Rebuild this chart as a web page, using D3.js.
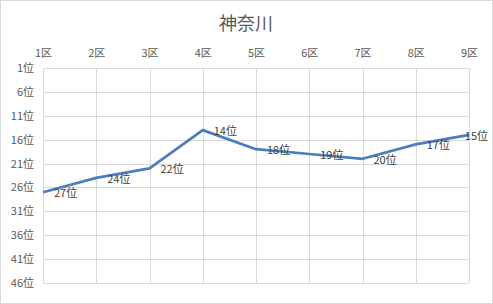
<!DOCTYPE html>
<html>
<head>
<meta charset="utf-8">
<script src="https://cdn.jsdelivr.net/npm/d3@7"></script>
<style>
  body { margin: 0; background: #fff; }
  svg { display: block; font-family: "Noto Sans CJK JP", "Noto Sans", sans-serif; }
</style>
</head>
<body>
<svg id="chart" width="493" height="304"></svg>
<script>
/*  Data  */
const title      = "神奈川";
const districts  = ["1区", "2区", "3区", "4区", "5区", "6区", "7区", "8区", "9区"];
const ranks      = [27, 24, 22, 14, 18, 19, 20, 17, 15];
const rankTicks  = [1, 6, 11, 16, 21, 26, 31, 36, 41, 46];

/*  Dimensions  */
const W = 493, H = 304;
const margin = {top: 68, right: 24, bottom: 21, left: 43},
      width  = W - margin.left - margin.right,
      height = H - margin.top  - margin.bottom;

const root = d3.select("#chart");

// chart border
root.append("rect")
  .attr("x", 0.5).attr("y", 0.5)
  .attr("width", W - 1).attr("height", H - 1)
  .attr("fill", "#fff")
  .attr("stroke", "#d9d9d9");

root.append("text")
  .attr("x", 246)
  .attr("y", 30)
  .attr("text-anchor", "middle")
  .attr("fill", "#595959")
  .attr("font-size", 18)
  .text(title);

const svg = root.append("g")
  .attr("transform", `translate(${margin.left},${margin.top})`);

const xScale = d3.scalePoint().domain(districts).range([0, width]);
const yScale = d3.scaleLinear().domain([1, 46]).range([0, height]);

/* gridlines */
svg.append("g")
  .selectAll("line.h")
  .data(rankTicks)
  .join("line")
  .attr("x1", 0).attr("x2", width)
  .attr("y1", d => Math.round(yScale(d)) + 0.5)
  .attr("y2", d => Math.round(yScale(d)) + 0.5)
  .attr("stroke", "#d9d9d9");

svg.append("g")
  .selectAll("line.v")
  .data(districts)
  .join("line")
  .attr("x1", d => Math.round(xScale(d)) + 0.5)
  .attr("x2", d => Math.round(xScale(d)) + 0.5)
  .attr("y1", 0).attr("y2", height)
  .attr("stroke", "#d9d9d9");

/* axes (top + left, labels only) */
const xAxis = d3.axisTop(xScale).tickSize(0).tickPadding(11);
const yAxis = d3.axisLeft(yScale).tickValues(rankTicks).tickSize(0).tickPadding(9)
  .tickFormat(d => d + "位");

svg.append("g").attr("class", "x-axis").call(xAxis);
svg.append("g").attr("class", "y-axis").call(yAxis);

svg.selectAll(".x-axis path, .y-axis path").remove();
svg.selectAll(".x-axis text, .y-axis text")
  .attr("fill", "#595959")
  .attr("font-size", 11)
  .attr("font-family", "\"Noto Sans CJK JP\", sans-serif");

/* line */
const lineGen = d3.line()
  .x((d, i) => xScale(districts[i]))
  .y(d => yScale(d));

svg.append("path")
  .datum(ranks)
  .attr("fill", "none")
  .attr("stroke", "#4a7ebf")
  .attr("stroke-width", 2.75)
  .attr("stroke-linejoin", "round")
  .attr("d", lineGen);

/* data labels (pushed back inside the chart if they would run off the edge) */
const maxRight = W - margin.left - 5;
svg.append("g")
  .selectAll("text")
  .data(ranks)
  .join("text")
  .attr("x", (d, i) => xScale(districts[i]) + 11)
  .attr("y", d => yScale(d) + 2)
  .attr("dominant-baseline", "middle")
  .attr("fill", "#404040")
  .attr("font-size", 11)
  .text(d => d + "位")
  .each(function() {
    const t = d3.select(this);
    const w = this.getComputedTextLength();
    const x = +t.attr("x");
    if (x + w > maxRight) t.attr("x", maxRight - w);
  });
</script>
</body>
</html>
